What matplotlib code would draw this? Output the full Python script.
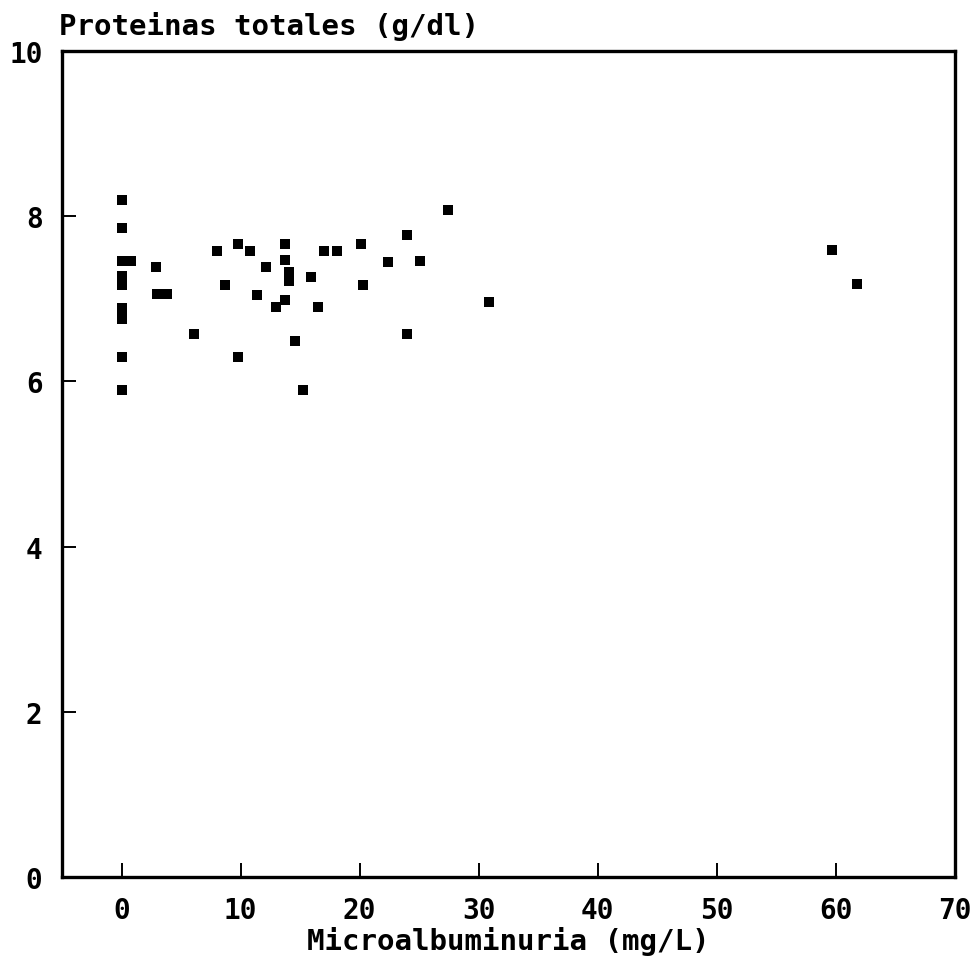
# scatter: total proteins vs microalbuminuria
import matplotlib
matplotlib.use('Agg')
import matplotlib.pyplot as plt

# data
microalb = [0, 0, 0, 0, 0, 0, 0, 0, 0, 0,
            0.8, 2.9, 3.0, 3.8, 6.1, 8.0, 8.7, 9.8, 9.8, 10.8,
            11.4, 12.1, 13.0, 13.7, 13.7, 14.1, 14.1, 13.7, 14.6, 15.2,
            15.9, 16.5, 17.0, 18.1, 20.1, 20.3, 22.4, 24.0, 24.0, 25.1,
            27.4, 30.9, 59.7, 61.8]
proteinas = [8.2, 7.86, 7.46, 7.28, 7.17, 6.89, 6.83, 6.76, 6.29, 5.9,
             7.46, 7.39, 7.06, 7.06, 6.57, 7.58, 7.17, 7.66, 6.29, 7.58,
             7.05, 7.38, 6.9, 7.66, 7.47, 7.32, 7.22, 6.98, 6.49, 5.9,
             7.26, 6.9, 7.58, 7.58, 7.66, 7.17, 7.45, 7.77, 6.57, 7.46,
             8.08, 6.96, 7.59, 7.18]

xticks = [0, 10, 20, 30, 40, 50, 60, 70]
yticks = [0, 2, 4, 6, 8, 10]

font = 'DejaVu Sans Mono'

fig = plt.figure(figsize=(9.72, 9.62), dpi=100)
ax = fig.add_axes([62/972, 1 - 878/962, (955-62)/972, (878-52)/962])

ax.scatter(microalb, proteinas, marker='s', s=52, color='black', linewidths=0)

ax.set_xlim(-5, 70)
ax.set_ylim(0, 10)
ax.set_xticks(xticks)
ax.set_yticks(yticks)
ax.set_xticklabels([str(t) for t in xticks], fontfamily=font, fontweight='bold', fontsize=20)
ax.set_yticklabels([str(t) for t in yticks], fontfamily=font, fontweight='bold', fontsize=20)
ax.tick_params(direction='in', length=10, width=1.4, pad=14)

for s in ax.spines.values():
  s.set_linewidth(2.4)

ax.set_xlabel('Microalbuminuria (mg/L)', fontfamily=font, fontweight='bold', fontsize=21, labelpad=1)

# y axis title sits above the box, left aligned
fig.text(59/972, 1 - 35/962, 'Proteinas totales (g/dl)', fontfamily=font,
         fontweight='bold', fontsize=21, ha='left', va='baseline')

fig.savefig('out.png', dpi=100)
